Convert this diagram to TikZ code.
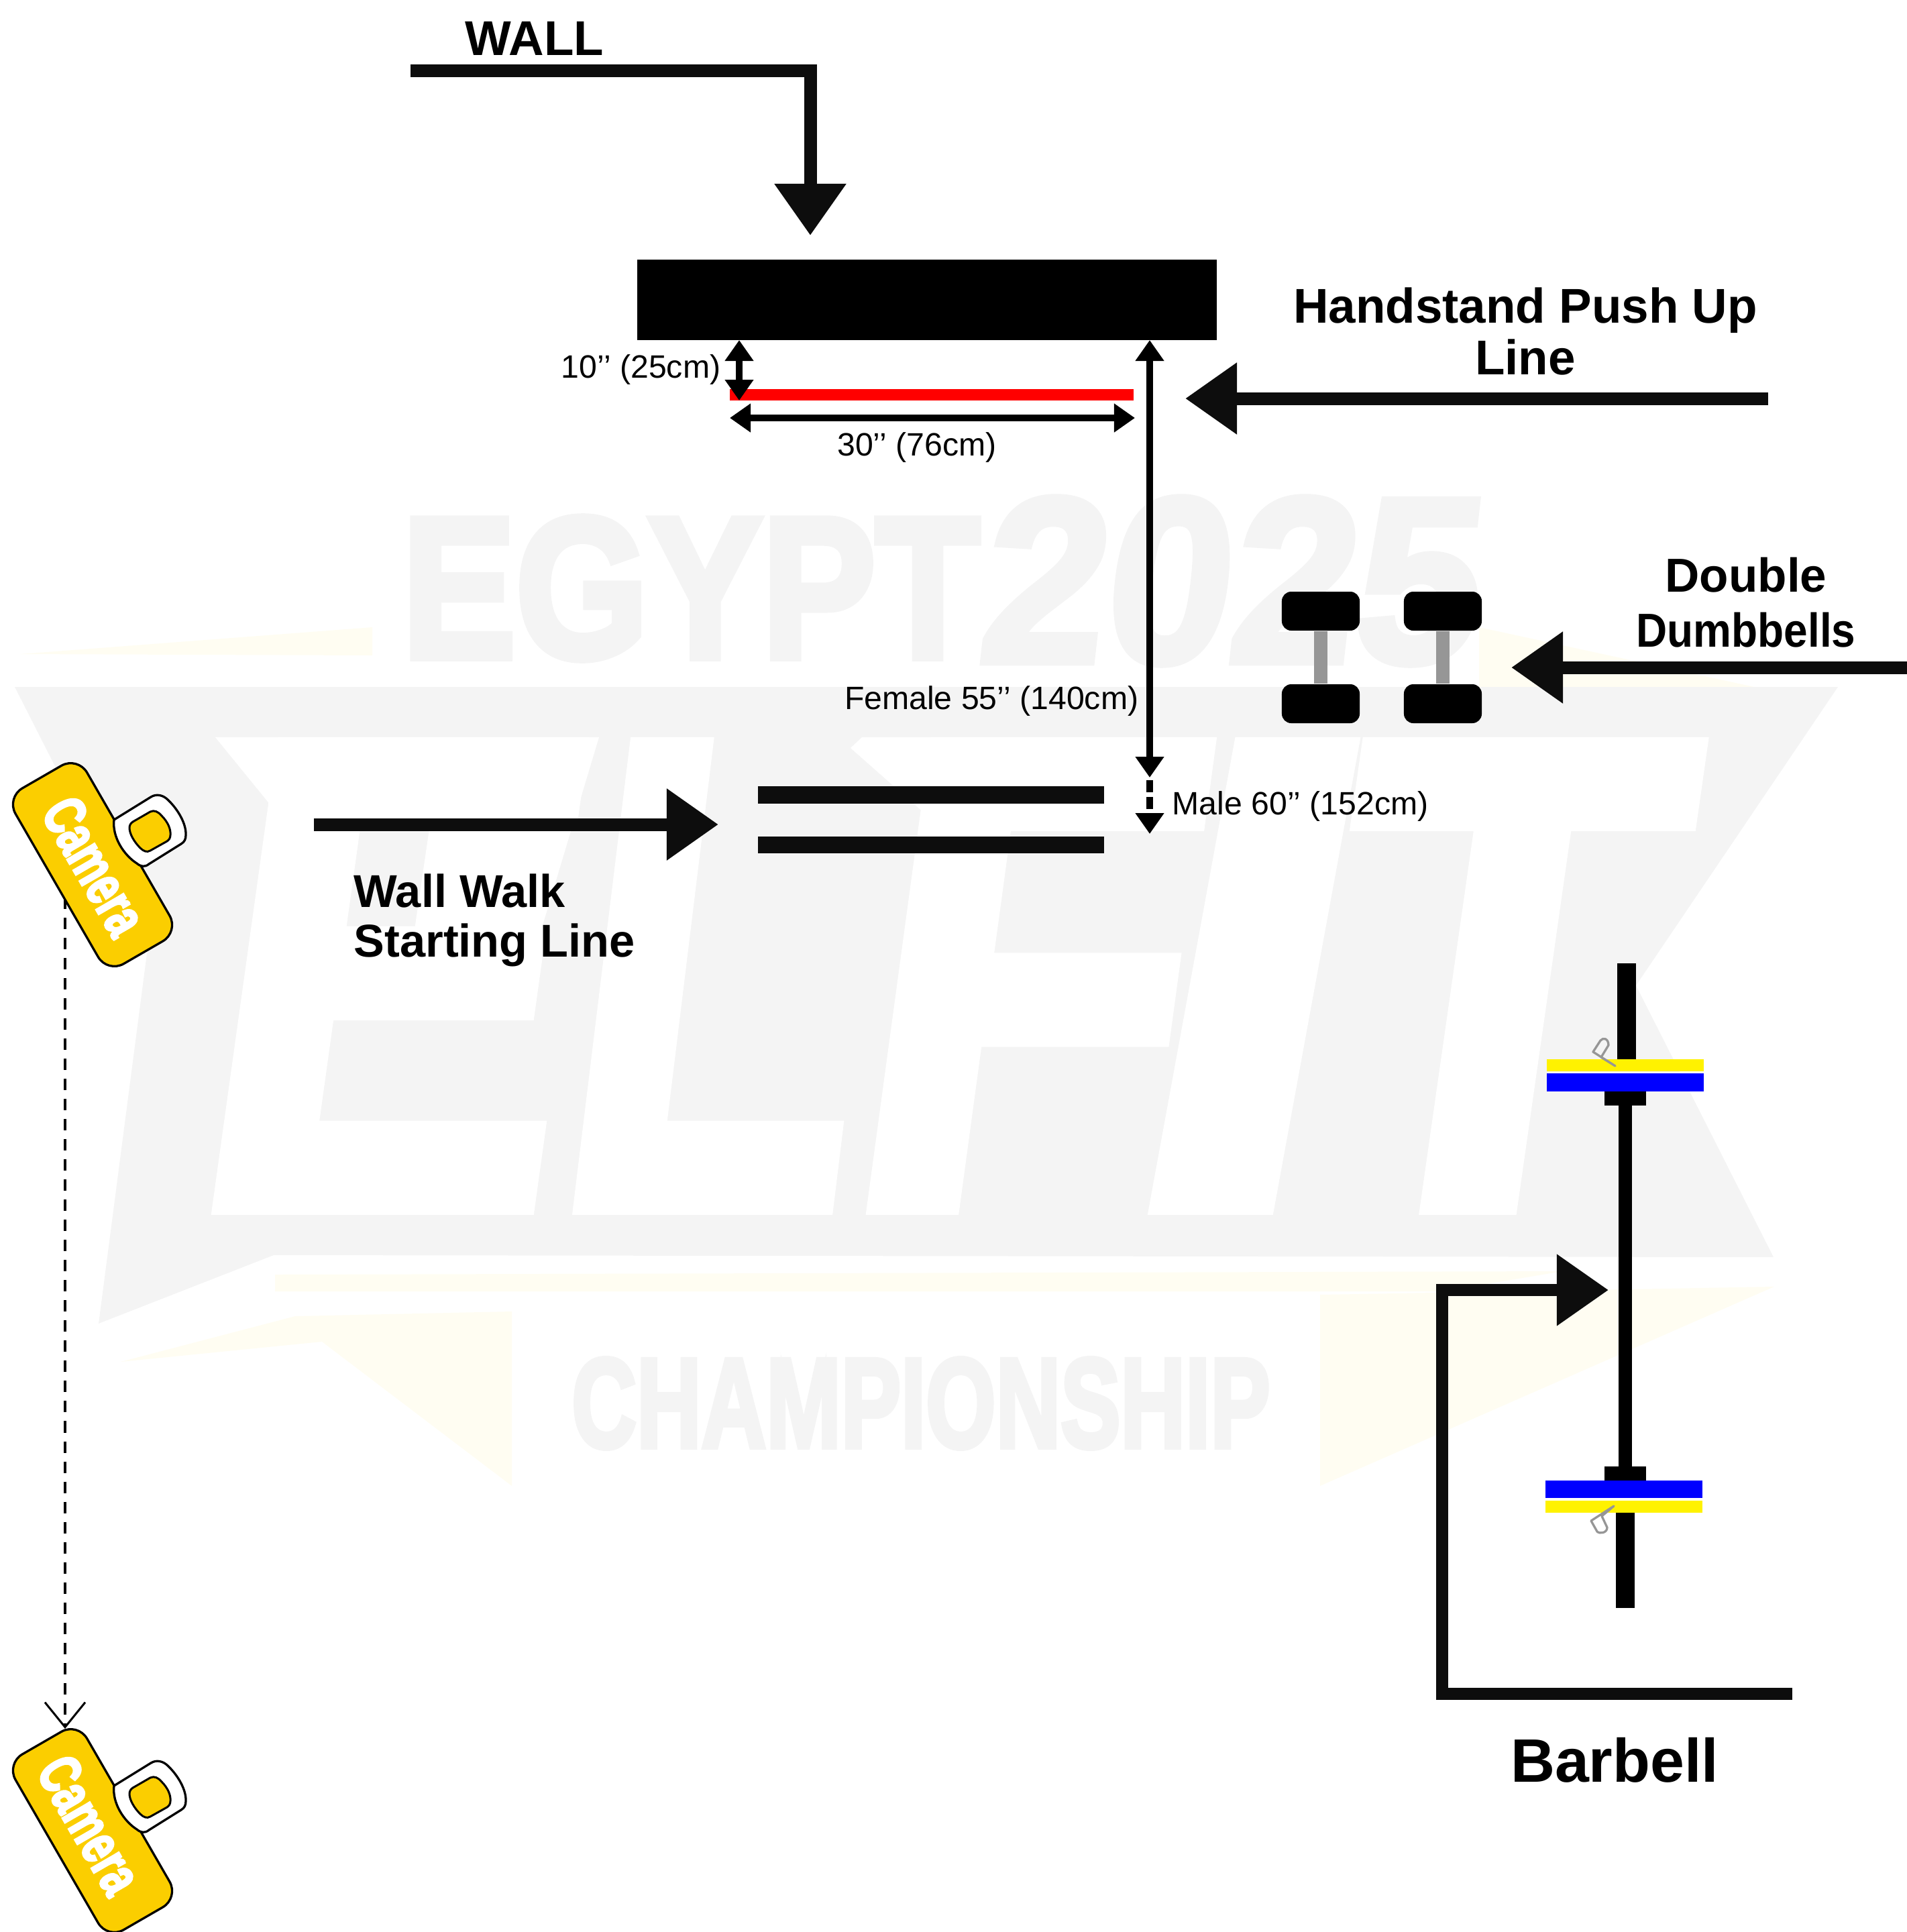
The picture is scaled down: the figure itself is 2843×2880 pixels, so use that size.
\documentclass[tikz,border=0pt]{standalone}
\usepackage{fontspec}
\setmainfont{Liberation Sans}
\newfontfamily\heavyfont[FakeBold=4]{Liberation Sans Bold}
\newfontfamily\elfitfont[FakeSlant=0.17,FakeBold=3]{Liberation Sans Bold}
\newfontfamily\yearfont[FakeSlant=0.12,FakeBold=3]{Liberation Sans Bold}
\usepackage{tikz}
\usetikzlibrary{
  arrows.meta,
  positioning
}
\definecolor{camyellow}{RGB}{251,206,0}
\definecolor{markgray}{RGB}{244,244,244}
\definecolor{markyellow}{RGB}{255,253,242}
\definecolor{handlegray}{RGB}{150,150,150}
\tikzset{
  blockBox/.style={
    rectangle,
    fill=black,
    inner sep=0pt,
    minimum width=#1
  },
  bellBox/.style={
    rectangle,
    rounded corners=.14cm,
    fill=black,
    inner sep=0pt,
    minimum width=1.16cm,
    minimum height=.58cm
  },
  plateBox/.style={
    rectangle,
    inner sep=0pt,
    minimum width=2.33cm
  },
  camBody/.style={
    rectangle,
    rounded corners=.28cm,
    draw=black,
    line width=.033cm,
    fill=camyellow,
    rotate=-60,
    inner sep=0pt,
    minimum width=3.02cm,
    minimum height=1.23cm
  },
  camText/.style={
    rotate=-60,
    text=white,
    inner sep=0pt,
    font=\fontsize{25}{26}\heavyfont
  },
  elfitLetter/.style={
    anchor=base,
    text=white,
    inner sep=0pt,
    font=\fontsize{282}{282}\elfitfont
  },
  bigArrow/.style={
    -{Triangle[length=.77cm,width=1.02cm]},
    line width=.19cm,
    draw=black!95
  },
  dimArrow/.style={
    {Triangle[length=.31cm,width=.41cm]}-{Triangle[length=.31cm,width=.41cm]},
    line width=.1cm
  },
  headArrow/.style={
    -{Triangle[length=.31cm,width=.41cm]},
    line width=.1cm
  },
  sightLine/.style={
    -{Straight Barb[length=.37cm,width=.6cm]},
    line width=.03cm,
    dash pattern=on .17cm off .13cm
  },
  handleBar/.style={
    line width=.2cm,
    draw=handlegray
  },
  boldLabel/.style={
    align=center,
    inner sep=0pt,
    font=\fontsize{#1}{#1}\bfseries
  },
  dimLabel/.style={
    inner sep=0pt,
    font=\fontsize{13.7}{15}\selectfont
  },
  clipLine/.style={
    draw=handlegray,
    line width=.033cm,
    line join=round
  },
  camLens/.pic={
    \draw[fill=white, line width=.033cm, line join=round] (170,1222) -- (225,1188)
      .. controls (233,1183) and (243,1185) .. (250,1192)
      .. controls (265,1206) and (278,1228) .. (277,1245)
      .. controls (277,1251) and (275,1255) .. (270,1258)
      -- (222,1288) .. controls (216,1293) and (210,1292) .. (204,1287)
      .. controls (185,1275) and (167,1248) .. (170,1222) -- cycle;
    \draw[fill=camyellow, line width=.03cm, line join=round] (198,1225) -- (224,1210)
      .. controls (230,1207) and (236,1210) .. (241,1216)
      .. controls (250,1225) and (255,1236) .. (254,1245)
      .. controls (254,1249) and (252,1252) .. (249,1254)
      -- (224,1268) .. controls (219,1271) and (214,1269) .. (209,1264)
      .. controls (200,1255) and (193,1243) .. (193,1234)
      .. controls (193,1230) and (195,1227) .. (198,1225) -- cycle;
  }
}
\begin{document}
\begin{tikzpicture}[x=.01cm,y=-.01cm]
  \useasboundingbox (0,0) rectangle (2843,2880);

  \fill[markyellow] (30,975) -- (555,935) -- (555,977) -- cycle;
  \fill[markyellow] (2205,935) -- (2620,1025) -- (2205,1025) -- cycle;
  \fill[markgray] (22,1024) -- (2740,1024) -- (2439,1469) -- (2644,1874)
    -- (408,1871) -- (147,1973) -- (220,1414) -- cycle;
  \fill[markyellow] (410,1900) -- (2330,1895) -- (2150,1925) -- (410,1925) -- cycle;
  \fill[markyellow] (180,2030) -- (440,1962) -- (763,1955) -- (763,2215) -- (480,2000) -- cycle;
  \fill[markyellow] (1968,1930) -- (2645,1918) -- (1968,2215) -- cycle;

  \node[elfitLetter] (markE) at (546,1796) {\scalebox{.82}[1]{E}};
  \node[elfitLetter] (markL) at (1036,1796) {\scalebox{.72}[1]{L}};
  \node[elfitLetter] (markF) at (1494,1796) {\scalebox{.8}[1]{F}};
  \node[elfitLetter] (markI) at (1807,1796) {\scalebox{1.08}[1]{I}};
  \node[elfitLetter] (markT) at (2190,1796) {\scalebox{.84}[1]{T}};
  \fill[white] (321,1099) -- (450,1099) -- (426,1228) -- cycle;
  \fill[white] (1285,1099) -- (1268,1115) -- (1396,1228) -- (1420,1099) -- cycle;
  \fill[white] (893,1099) -- (770,1509) -- (600,1509) -- (660,1099) -- cycle;

  \node[text=markgray, inner sep=0pt] (markEgypt) at (1030,877)
    {\scalebox{.85}[1]{\fontsize{85}{85}\heavyfont EGYPT}};
  \node[text=markgray, inner sep=0pt] (markYear) at (1826,866)
    {\scalebox{.95}[1]{\fontsize{100}{100}\yearfont 2025}};
  \node[text=markgray, inner sep=0pt] (markChamp) at (1373,2092)
    {\scalebox{.705}[1]{\fontsize{54}{54}\heavyfont CHAMPIONSHIP}};

  \node[boldLabel=20.7] (wallLabel) at (797,57) {WALL};
  \node[blockBox=8.64cm, minimum height=1.2cm] (wall) at (1382,447) {};
  \coordinate (wallStart) at (612,105);
  \coordinate (wallBend) at (1208,105);
  \coordinate (wallTip) at (1208,351);
  \draw[bigArrow] (wallStart) -- (wallBend) -- (wallTip);

  \node[boldLabel=20.7, align=center] (hspuLabel) at (2274,494) {Handstand Push Up\\[1.3pt]Line};
  \coordinate (hspuStart) at (2636,594);
  \coordinate (hspuTip) at (1767,594);
  \draw[bigArrow] (hspuStart) -- (hspuTip);

  \node[blockBox=6.02cm, minimum height=.17cm, fill=red] (hspuLine) at (1389,588.5) {};
  \coordinate (gapTop) at (1102,507);
  \coordinate (gapEnd) at (1102,597);
  \draw[dimArrow] (gapTop) -- (gapEnd);
  \node[dimLabel, anchor=east] (gapLabel) at (1075,551) {10’’ (25cm)};
  \coordinate (widthLeft) at (1088,623);
  \coordinate (widthRight) at (1692,623);
  \draw[dimArrow] (widthLeft) -- (widthRight);
  \node[dimLabel] (widthLabel) at (1367,667) {30’’ (76cm)};

  \coordinate (femaleTop) at (1714,507);
  \coordinate (femaleEnd) at (1714,1159);
  \draw[dimArrow] (femaleTop) -- (femaleEnd);
  \node[dimLabel, anchor=east] (femaleLabel) at (1698,1045) {Female 55’’ (140cm)};
  \coordinate (maleTop) at (1714,1163);
  \coordinate (maleEnd) at (1714,1243);
  \draw[headArrow, dash pattern=on .18cm off .07cm] (maleTop) -- (maleEnd);
  \node[dimLabel, anchor=west] (maleLabel) at (1747,1202) {Male 60’’ (152cm)};

  \node[bellBox] (bellA) at (1969,911) {};
  \node[bellBox] (bellB) at (1969,1049) {};
  \node[bellBox] (bellC) at (2151,911) {};
  \node[bellBox] (bellD) at (2151,1049) {};
  \draw[handleBar] (bellA) -- (bellB);
  \draw[handleBar] (bellC) -- (bellD);
  \node[boldLabel=20.2, align=center] (bellLabel) at (2603,898) {Double\\[3pt]\scalebox{.9}[1]{Dumbbells}};
  \coordinate (bellStart) at (2843,995);
  \coordinate (bellTip) at (2253,995);
  \draw[bigArrow] (bellStart) -- (bellTip);

  \node[blockBox=5.16cm, minimum height=.26cm, fill=black!95] (walkTop) at (1388,1185) {};
  \node[blockBox=5.16cm, minimum height=.25cm, fill=black!95] (walkBottom) at (1388,1259) {};
  \coordinate (walkStart) at (468,1229);
  \coordinate (walkTip) at (1071,1229);
  \draw[bigArrow] (walkStart) -- (walkTip);
  \node[boldLabel=19.5, align=left, anchor=north west] (walkLabel) at (527,1302) {Wall Walk\\[1.6pt]Starting Line};

  \node[blockBox=.28cm, minimum height=1.43cm] (sleeveTop) at (2425,1507.5) {};
  \node[blockBox=.2cm, minimum height=5.38cm] (bar) at (2423,1917) {};
  \node[blockBox=.28cm, minimum height=1.42cm] (sleeveBottom) at (2423,2326) {};
  \node[plateBox, fill=yellow, minimum height=.18cm] (plateA) at (2423,1588) {};
  \node[plateBox, fill=blue, minimum height=.27cm] (plateB) at (2423,1613.5) {};
  \node[blockBox=.62cm, minimum height=.21cm] (collarA) at (2423,1637.5) {};
  \node[blockBox=.62cm, minimum height=.21cm] (collarB) at (2423,2196.5) {};
  \node[plateBox, fill=blue, minimum height=.26cm] (plateC) at (2421,2220) {};
  \node[plateBox, fill=yellow, minimum height=.18cm] (plateD) at (2421,2246) {};
  \draw[clipLine] (2408,1589) -- (2375,1568) -- (2386,1551)
    .. controls (2390,1546) and (2398,1548) .. (2398,1558) -- (2387,1576) -- cycle;
  \draw[clipLine] (2406,2245) -- (2372,2267) -- (2381,2283)
    .. controls (2385,2287) and (2396,2285) .. (2396,2277) -- (2388,2260) -- cycle;
  \coordinate (barStart) at (2672,2525);
  \coordinate (barCorner) at (2150,2525);
  \coordinate (barBend) at (2150,1923);
  \coordinate (barTip) at (2398,1923);
  \draw[bigArrow, line width=.18cm] (barStart) -- (barCorner) -- (barBend) -- (barTip);
  \node[boldLabel=26] (barLabel) at (2407,2624) {Barbell};

  \coordinate (sightStart) at (97,1338);
  \coordinate (sightEnd) at (97,2577);
  \draw[sightLine] (sightStart) -- (sightEnd);
  \node[camBody] (camTop) at (138,1289) {};
  \node[camText] (camTopText) at (141,1291) {\scalebox{.68}[1]{Camera}};
  \pic at (0,0) {camLens};
  \node[camBody] (camBottom) at (138,2729) {};
  \node[camText] (camBottomText) at (134,2720) {\scalebox{.68}[1]{Camera}};
  \pic at (0,1440) {camLens};
\end{tikzpicture}
\end{document}
